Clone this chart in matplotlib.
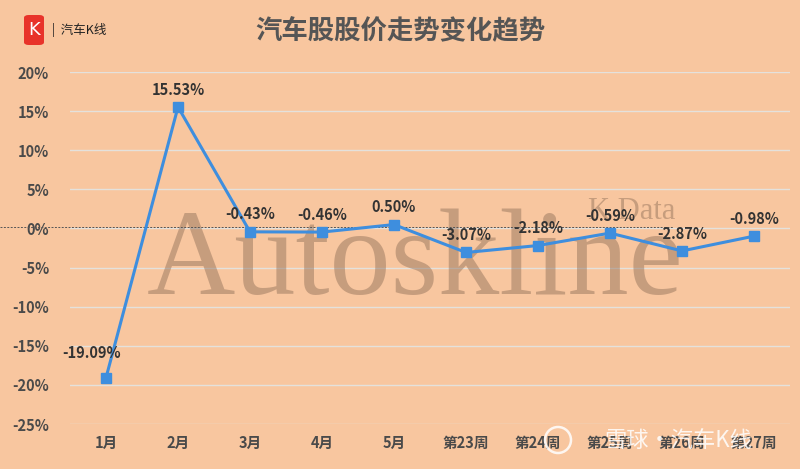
import matplotlib.pyplot as plt
from matplotlib.patches import FancyBboxPatch, Circle

plt.rcParams['font.family'] = ['Noto Sans CJK SC', 'DejaVu Sans']

categories = ['1月', '2月', '3月', '4月', '5月', '第23周', '第24周', '第25周', '第26周', '第27周']
changes = [-19.09, 15.53, -0.43, -0.46, 0.50, -3.07, -2.18, -0.59, -2.87, -0.98]
yticks = [20, 15, 10, 5, 0, -5, -10, -15, -20, -25]

BG = '#F8C69F'
LINE = '#3E8EDE'

fig = plt.figure(figsize=(8, 4.69), dpi=100, facecolor=BG)
ax = fig.add_axes([0.0875, 0.0959, 0.9, 0.7505], facecolor=BG)

x = list(range(len(categories)))
ax.plot(x, changes, color=LINE, lw=2.2, marker='s', ms=7, mfc=LINE, mec=LINE, zorder=5)

# watermark text
ax.text(4.3, -4.6, 'Autoskline', fontsize=88, family='Liberation Serif',
        color='#8B6B55', alpha=0.45, ha='center', va='center', zorder=1)
ax.text(7.3, 2.2, 'K Data', fontsize=22, family='Liberation Serif',
        color='#8B6B55', alpha=0.45, ha='center', va='center', zorder=1)

for i, v in enumerate(changes):
    if i == 0:
        ax.text(i - 0.2, v + 2.2, f'{v:.2f}%', ha='center', va='bottom',
                fontsize=10.5, fontweight='bold', color='#333333', zorder=6)
    else:
        ax.text(i, v + 1.2, f'{v:.2f}%', ha='center', va='bottom',
                fontsize=10.5, fontweight='bold', color='#333333', zorder=6)

ax.set_xlim(-0.5, len(categories) - 0.5)
ax.set_ylim(-25, 20)
ax.set_yticks(yticks)
ax.set_yticklabels([f'{t}%' for t in yticks])
ax.set_xticks(x)
ax.set_xticklabels(categories)
ax.grid(axis='y', color='#E4E1DC', lw=1)
ax.set_axisbelow(True)
for s in ax.spines.values():
    s.set_visible(False)
ax.tick_params(length=0, labelsize=10.5, labelcolor='#4A4A4A')
for lab in ax.get_yticklabels() + ax.get_xticklabels():
    lab.set_fontweight('bold')
ax.tick_params(axis='y', pad=15)
ax.tick_params(axis='x', pad=8)

# dotted zero line running in from the left edge
ax.plot([-70 / 720, 603 / 720], [0.25, 0.25], transform=ax.get_yaxis_transform(),
        color='#555555', lw=0.7, ls=(0, (2, 1.5)), clip_on=False, zorder=2)

fig.text(0.5, 0.932, '汽车股股价走势变化趋势', ha='center', va='center',
         fontsize=19, fontweight='bold', color='#555555')

# logo
logo = FancyBboxPatch((24 / 800, 1 - 45 / 469), 20 / 800, 30 / 469,
                      boxstyle='round,pad=0,rounding_size=0.006',
                      transform=fig.transFigure, fc='#E8332A', ec='none')
fig.add_artist(logo)
fig.text(34 / 800, 1 - 30 / 469, 'K', ha='center', va='center', color='white',
         fontsize=13, family='DejaVu Sans')
fig.text(52 / 800, 1 - 30 / 469, '|  汽车K线', ha='left', va='center',
         fontsize=9, color='#222222')

# bottom-right site watermark
fig.add_artist(Circle((5.58, 0.29), 0.13, transform=fig.dpi_scale_trans,
                      fill=False, ec='white', lw=1.8, alpha=0.85))
fig.text(0.848, 1 - 440 / 469, '雪球·汽车K线', ha='center', va='center',
         fontsize=16, color='white', alpha=0.85)

fig.savefig('out.png', dpi=100, facecolor=BG)
